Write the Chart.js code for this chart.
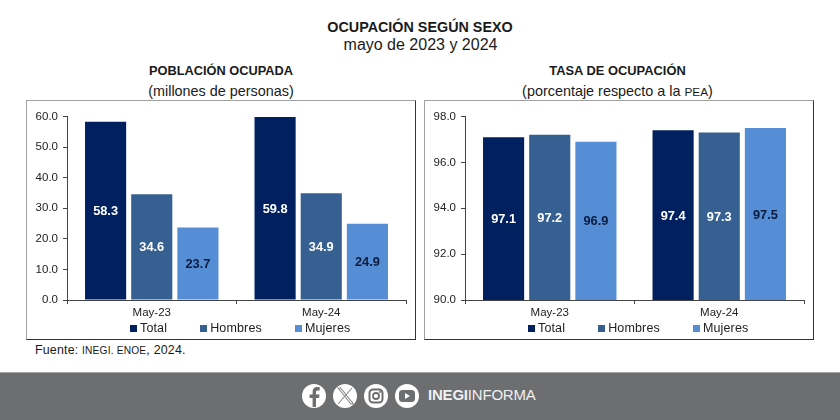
<!DOCTYPE html>
<html lang="es">
<head>
<meta charset="utf-8">
<title>Ocupación según sexo</title>
<script src="https://cdn.jsdelivr.net/npm/chart.js@4"></script>
<style>
  html, body { margin: 0; padding: 0; background: #fff; }
  body { width: 840px; height: 420px; position: relative; overflow: hidden; font-family: "Liberation Sans", Arial, sans-serif; color: #1a1a1a; }
  .txt { position: absolute; text-align: center; white-space: nowrap; }
  .panel { position: absolute; top: 100px; width: 388px; height: 238px; background: #fff;
           border: 1px solid #a0a0a0; border-right-color: #333; border-bottom-color: #333; }
  canvas { position: absolute; top: 100px; }
  .legend { position: absolute; top: 321px; display: flex; font-size: 12.5px; letter-spacing: .15px; color: #222; }
  .legend span { display: flex; align-items: center; }
  .legend i { width: 7px; height: 7px; margin-right: 3px; display: block; }
  .foot { position: absolute; left: 0; top: 372px; width: 840px; height: 48px; background: #6d6e70; border-top: 1px solid #a5a5a5; box-sizing: border-box; }
  .foot svg { position: absolute; left: 0; top: -1px; }
  .brand { position: absolute; left: 428px; top: 13px; font-size: 15px; color: #f1f1f1; letter-spacing: -.2px; }
  small { font-size: .82em; }
</style>
</head>
<body>
<div class="txt" style="left:0;width:840px;top:19px;font-size:14.35px;font-weight:bold">OCUPACIÓN SEGÚN SEXO</div>
<div class="txt" style="left:0;width:841px;top:36px;font-size:16px">mayo de 2023 y 2024</div>
<div class="txt" style="left:26px;width:390px;top:63px;font-size:12.8px;font-weight:bold">POBLACIÓN OCUPADA</div>
<div class="txt" style="left:26px;width:390px;top:83px;font-size:14.4px">(millones de personas)</div>
<div class="txt" style="left:424px;width:387px;top:63px;font-size:12.9px;font-weight:bold">TASA DE OCUPACIÓN</div>
<div class="txt" style="left:424px;width:387px;top:83px;font-size:14.4px">(porcentaje respecto a la <small>PEA</small>)</div>

<div class="panel" style="left:26px"></div>
<div class="panel" style="left:424px"></div>
<canvas id="chartPoblacion" width="390" height="240" style="left:26px"></canvas>
<canvas id="chartTasa" width="390" height="240" style="left:424px"></canvas>
<div class="legend" id="legendPoblacion" style="left:130px"></div>
<div class="legend" id="legendTasa" style="left:528px"></div>

<div class="txt" style="left:35px;top:343px;font-size:12.4px;letter-spacing:.2px">Fuente: <small>INEGI. ENOE</small>, 2024.</div>

<div class="foot">
  <svg width="840" height="48" viewBox="0 0 840 48">
    <circle cx="314" cy="24" r="12" fill="#fff"/>
    <path d="M316 35v-9h3l.6-3.6H316v-2.2c0-1.1.4-1.8 1.9-1.8h1.8v-3.2c-.5-.1-1.5-.2-2.6-.2-2.7 0-4.5 1.600-4.500 4.600v2.800h-3V26h3v9z" fill="#6d6e70"/>
    <circle cx="345" cy="24" r="12" fill="#fff"/>
    <path d="M338 16l13 16h2.500l-13-16zM352 16l-14 16" stroke="#8a8b8d" stroke-width="1.100" fill="none"/>
    <circle cx="376" cy="24" r="12" fill="#fff"/>
    <rect x="369.500" y="17.500" width="13" height="13" rx="3.500" stroke="#6d6e70" stroke-width="2" fill="none"/>
    <circle cx="376" cy="24" r="3" stroke="#6d6e70" stroke-width="1.800" fill="none"/>
    <circle cx="380" cy="20" r="1" fill="#6d6e70"/>
    <circle cx="407" cy="24" r="12" fill="#fff"/>
    <rect x="399" y="18" width="16" height="12" rx="3.500" fill="#6d6e70"/>
    <path d="M405 21v6l5-3z" fill="#fff"/>
  </svg>
  <div class="brand"><b>INEGI</b>INFORMA</div>
</div>

<script>
const categorias = ['May-23', 'May-24'];
const nombresSeries = ['Total', 'Hombres', 'Mujeres'];
const colores = ['#002060', '#376092', '#558ed5'];
const coloresTexto = ['#ffffff', '#ffffff', '#0b1b3f'];

// Población ocupada (millones de personas)
const poblacionTotal = [58.3, 59.8];
const poblacionHombres = [34.6, 34.9];
const poblacionMujeres = [23.7, 24.9];

// Tasa de ocupación (porcentaje respecto a la PEA)
const tasaTotal = [97.1, 97.4];
const tasaHombres = [97.2, 97.3];
const tasaMujeres = [96.9, 97.5];

// Etiquetas dentro de cada barra, a media altura
const etiquetasBarras = {
    id: 'etiquetasBarras',
    afterDatasetsDraw(chart) {
        const ctx = chart.ctx;
        const abajo = chart.chartArea.bottom;
        ctx.save();
        ctx.font = 'bold 12.8px "Liberation Sans", Arial, sans-serif';
        ctx.textAlign = 'center';
        ctx.textBaseline = 'middle';
        chart.data.datasets.forEach((ds, i) => {
            chart.getDatasetMeta(i).data.forEach((bar, j) => {
                // la base de la barra cae fuera del eje cuando y no empieza en 0
                const base = Math.min(bar.base, abajo);
                ctx.fillStyle = coloresTexto[i];
                ctx.fillText(ds.data[j].toFixed(1), bar.x, (bar.y + base) / 2 + 1);
            });
        });
        ctx.restore();
    }
};

const crearGrafico = (id, series, min, max, paso, izquierda) => {
    new Chart(document.getElementById(id), {
        type: 'bar',
        data: {
            labels: categorias,
            datasets: series.map((valores, i) => ({
                label: nombresSeries[i],
                data: valores,
                backgroundColor: colores[i],
                categoryPercentage: 0.817,
                barPercentage: 0.891
            }))
        },
        options: {
            responsive: false,
            animation: false,
            layout: { padding: { left: 0, right: 10, top: 16.5, bottom: 20 } },
            plugins: { legend: { display: false }, tooltip: { enabled: false } },
            scales: {
                x: {
                    grid: { drawOnChartArea: false, color: '#444', tickLength: 4, offset: true },
                    border: { color: '#444' },
                    ticks: { color: '#222', font: { size: 11.5, family: '"Liberation Sans", Arial, sans-serif' }, padding: 2, maxRotation: 0 },
                    afterFit: (scale) => { scale.height = 20; }
                },
                y: {
                    min: min,
                    max: max,
                    grid: { drawOnChartArea: false, color: '#444', tickLength: 4 },
                    border: { color: '#444' },
                    ticks: {
                        stepSize: paso,
                        color: '#222',
                        padding: 5,
                        font: { size: 11.5, family: '"Liberation Sans", Arial, sans-serif' },
                        callback: (v) => v.toFixed(1)
                    },
                    afterFit: (scale) => { scale.width = izquierda; }
                }
            }
        },
        plugins: [etiquetasBarras]
    });
};

const crearLeyenda = (id) => {
    const caja = document.getElementById(id);
    nombresSeries.forEach((nombre, i) => {
        const item = document.createElement('span');
        item.style.marginRight = '33px';
        item.innerHTML = '<i style="background:' + colores[i] + '"></i>' + nombre;
        caja.appendChild(item);
    });
};

crearGrafico('chartPoblacion', [poblacionTotal, poblacionHombres, poblacionMujeres], 0, 60, 10, 41);
crearGrafico('chartTasa', [tasaTotal, tasaHombres, tasaMujeres], 90, 98, 2, 41);
crearLeyenda('legendPoblacion');
crearLeyenda('legendTasa');
</script>
</body>
</html>
